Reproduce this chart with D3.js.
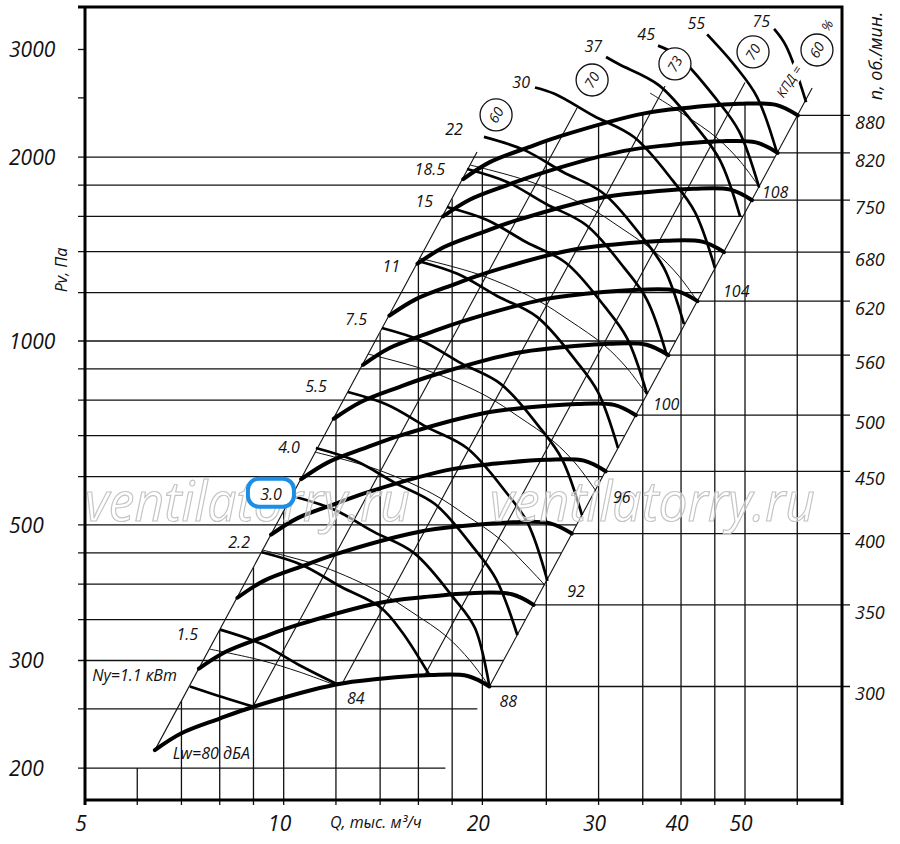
<!DOCTYPE html>
<html>
<head>
<meta charset="utf-8">
<script src="https://cdn.jsdelivr.net/npm/d3@7"></script>
<style>
  body { margin: 0; background: #fff; }
  text { font-family: "Open Sans", "DejaVu Sans", sans-serif; font-style: italic; fill: #111; }
</style>
</head>
<body>
<svg id="chart" width="900" height="844"></svg>
<script>
// ---- axes / grid values ----
const qTicks = [6, 7, 8, 9, 10, 12, 14, 16, 18, 20, 25, 30, 35, 40, 45, 50, 60];
const qLabels = [5, 10, 20, 30, 40, 50];
const pvGrid = [200, 250, 300, 350, 400, 450, 500, 600, 700, 800, 900, 1000, 1200, 1400, 1600, 1800, 2000];
const pvMinor = [2500, 3000];
const pvLabels = [200, 300, 500, 1000, 2000, 3000];

// ---- fan curves, Pv(Q) at each speed ----
const rpm = [300, 350, 400, 450, 500, 560, 620, 680, 750, 820, 880];
const rpmQ = [
  [6.38, 7.0, 8.0, 9.0, 12.0, 14.0, 16.7, 19.0, 20.5],
  [7.44, 8.17, 9.33, 10.5, 14.0, 16.33, 19.48, 22.17, 23.92],
  [8.51, 9.33, 10.67, 12.0, 16.0, 18.67, 22.27, 25.33, 27.33],
  [9.57, 10.5, 12.0, 13.5, 18.0, 21.0, 25.05, 28.5, 30.75],
  [10.63, 11.67, 13.33, 15.0, 20.0, 23.33, 27.83, 31.67, 34.17],
  [11.91, 13.07, 14.93, 16.8, 22.4, 26.13, 31.17, 35.47, 38.27],
  [13.19, 14.47, 16.53, 18.6, 24.8, 28.93, 34.51, 39.27, 42.37],
  [14.46, 15.87, 18.13, 20.4, 27.2, 31.73, 37.85, 43.07, 46.47],
  [15.95, 17.5, 20.0, 22.5, 30.0, 35.0, 41.75, 47.5, 51.25],
  [17.44, 19.13, 21.87, 24.6, 32.8, 38.27, 45.65, 51.93, 56.03],
  [18.71, 20.53, 23.47, 26.4, 35.2, 41.07, 48.99, 55.73, 60.13]
];
const rpmPv = [
  [214, 228, 241, 252, 274, 280, 284, 283, 272],
  [291, 310, 328, 343, 373, 381, 387, 385, 370],
  [380, 405, 428, 448, 487, 498, 505, 503, 484],
  [482, 513, 542, 567, 617, 630, 639, 637, 612],
  [594, 633, 669, 700, 761, 778, 789, 786, 756],
  [746, 794, 840, 878, 955, 976, 990, 986, 948],
  [914, 974, 1029, 1076, 1170, 1196, 1213, 1209, 1162],
  [1100, 1171, 1238, 1295, 1408, 1439, 1459, 1454, 1398],
  [1338, 1425, 1506, 1575, 1713, 1750, 1775, 1769, 1700],
  [1599, 1703, 1801, 1883, 2047, 2092, 2122, 2114, 2032],
  [1841, 1962, 2074, 2168, 2358, 2409, 2444, 2435, 2340]
];

// ---- motor power lines, kW ----
const powerLabels = ['Ny=1.1 кВт', '1.5', '2.2', '3.0', '4.0', '5.5', '7.5', '11', '15', '18.5', '22', '30', '37', '45', '55', '75'];
const powerQ = [
  [7.21, 8.29, 9.02],
  [8.01, 9.21, 10.55, 12.08],
  [9.27, 10.66, 12.21, 14.04, 15.11, 16.66],
  [10.40, 11.96, 13.70, 15.75, 18.05, 19.49, 20.5],
  [11.19, 12.87, 14.74, 16.95, 19.42, 20.97, 22.6],
  [12.51, 14.38, 16.48, 18.95, 21.71, 23.44, 25.1],
  [14.09, 16.20, 18.56, 21.34, 24.45, 26.40, 28.31],
  [15.98, 18.37, 21.05, 24.20, 27.73, 29.94, 32.11],
  [17.68, 20.33, 23.29, 26.78, 30.68, 33.13, 35.52],
  [18.96, 21.80, 24.98, 28.72, 32.90, 35.53, 38.09],
  [20.11, 23.12, 26.49, 30.46, 34.90, 37.68, 40.41],
  [24.03, 25.77, 29.52, 33.94, 38.89, 41.99, 45.03],
  [30.79, 32.22, 37.05, 42.45, 45.83, 49.15],
  [36.91, 39.58, 45.35, 48.96, 52.50],
  [43.81, 48.30, 52.15, 55.92],
  [55.34, 57.71, 61.88]
];
const powerPv = [
  [272, 259, 252],
  [337, 320, 295, 274],
  [451, 430, 396, 366, 334, 283],
  [556, 529, 487, 450, 381, 339, 272],
  [668, 636, 586, 541, 458, 408, 330],
  [825, 786, 723, 668, 566, 503, 405],
  [1050, 1000, 920, 850, 721, 641, 519],
  [1352, 1287, 1185, 1095, 928, 825, 668],
  [1657, 1578, 1452, 1342, 1137, 1011, 819],
  [1912, 1821, 1676, 1548, 1312, 1167, 945],
  [2158, 2055, 1891, 1747, 1481, 1317, 1066],
  [2600, 2537, 2335, 2157, 1828, 1625, 1316],
  [2916, 2837, 2621, 2222, 1975, 1599],
  [3044, 2926, 2480, 2205, 1786],
  [3176, 2821, 2508, 2031],
  [3241, 3039, 2461]
];

// ---- sound power lines, dBA ----
const noiseLabels = ['84', '88', '92', '96', '100', '104', '108'];
const noiseQ = [
  [7.735, 9.21, 10.59, 11.96],
  [9.27, 11.47, 13.99, 15.70, 17.68, 19.15, 20.5],
  [11.15, 13.80, 16.83, 18.88, 21.26, 23.04, 24.9],
  [13.42, 16.60, 20.26, 22.73, 25.59, 27.73, 29.73],
  [16.03, 19.83, 24.20, 27.15, 30.57, 33.12, 35.51],
  [19.16, 23.70, 28.92, 32.45, 36.54, 39.59, 42.44],
  [35.90, 40.28, 45.35, 49.13, 52.68]
];
const noisePv = [
  [313, 300.5, 287, 273.5],
  [455, 427, 388, 359, 328, 300, 272],
  [658, 617, 562, 519, 474, 435, 398],
  [952, 893, 813, 751, 686, 629, 568],
  [1367, 1283, 1167, 1079, 985, 903, 816],
  [1941, 1821, 1657, 1531, 1398, 1282, 1158],
  [2546, 2353, 2149, 1970, 1780]
];

// ---- efficiency lines (КПД, %) ----
const effLabels = ['60', '70', '73', '70', '60'];
const effQ = [[6.38, 19.63], [8.98, 27.83], [12.3, 37.83], [16.3, 50.0], [20.5, 63.2]];
const effPv = [[214, 2039], [252, 2406], [276.6, 2614], [282, 2650], [272, 2594]];
const effTagQ = [20.98, 29.33, 39.16, 51.42, 64.27];
const effTagPv = [2344, 2674, 2841, 2972, 2994];

// label offsets in px (layout only)
const powerLabelOff = [[-13,-5],[-22,10],[-12,-4],[-13,3],[-16,5],[-21,0],[-15,-3],[-18,11],[-14,0],[-22,6],[-21,-2],[-5,1],[-4,-5],[-3,-6],[-2,-5],[-4,-2]];
const noiseLabelOff = [[12,19],[10,21],[22,12],[17,12],[6,15],[25,-5],[2,10]];

const svg = d3.select('#chart');
const L = 85, R = 842, T = 7, B = 800;

const x = d3.scaleLog().domain([5, 50]).range([85, 745]);
const y = d3.scaleLog().domain([100, 1000]).range([952, 341]);

const pts = (qs, ps) => qs.map((q, i) => [q, ps[i]]);
const smooth = d3.line().x(d => x(d[0])).y(d => y(d[1])).curve(d3.curveCatmullRom.alpha(0.5));
const straight = d3.line().x(d => x(d[0])).y(d => y(d[1]));

// Q on a straight log-log line a-b at given Pv
function qAt(a, b, pv) {
  const t = Math.log(pv / a[1]) / Math.log(b[1] / a[1]);
  return Math.exp(Math.log(a[0]) + t * Math.log(b[0] / a[0]));
}

const leftEdge = pts(effQ[0], effPv[0]);
const rightEdge = pts(effQ[4], effPv[4]);
const topCurve = pts(rpmQ[rpmQ.length - 1], rpmPv[rpmPv.length - 1]);

// clip for the vertical grid: below left edge and top speed curve
const qLow = qAt(leftEdge[0], leftEdge[1], pvGrid[0]);
const clipD = `M${L},${B + 6}L${L},${y(pvGrid[0])}L${x(qLow)},${y(pvGrid[0])}` +
  smooth(topCurve).replace(/^M/, 'L') +
  `L${R},${y(topCurve[topCurve.length - 1][1])}L${R},${B + 6}Z`;
svg.append('clipPath').attr('id', 'vclip').append('path').attr('d', clipD);

const grid = svg.append('g').attr('stroke', '#111').attr('stroke-width', 1.3);
grid.append('g').attr('clip-path', 'url(#vclip)')
  .selectAll('line').data(qTicks).join('line')
  .attr('x1', d => x(d)).attr('x2', d => x(d))
  .attr('y1', B + 5).attr('y2', 0);
grid.selectAll('line.h').data(pvGrid).join('line').attr('class', 'h')
  .attr('x1', L - 7).attr('x2', d => x(qAt(rightEdge[0], rightEdge[1], d)))
  .attr('y1', d => y(d)).attr('y2', d => y(d));
grid.selectAll('line.m').data(pvMinor).join('line').attr('class', 'm')
  .attr('x1', L - 7).attr('x2', L)
  .attr('y1', d => y(d)).attr('y2', d => y(d));

// efficiency lines
svg.append('g').selectAll('path').data(effQ).join('path')
  .attr('d', (d, i) => straight(pts(d, effPv[i])))
  .attr('fill', 'none').attr('stroke', '#111').attr('stroke-width', 1.1);

// sound lines
svg.append('g').selectAll('path').data(noiseQ).join('path')
  .attr('d', (d, i) => smooth(pts(d, noisePv[i])))
  .attr('fill', 'none').attr('stroke', '#111').attr('stroke-width', 1);

// power lines
svg.append('g').selectAll('path').data(powerQ).join('path')
  .attr('d', (d, i) => smooth(pts(d, powerPv[i])))
  .attr('fill', 'none').attr('stroke', '#000').attr('stroke-width', 2.7);

// speed curves
svg.append('g').selectAll('path').data(rpmQ).join('path')
  .attr('d', (d, i) => smooth(pts(d, rpmPv[i])))
  .attr('fill', 'none').attr('stroke', '#000').attr('stroke-width', 4)
  .attr('stroke-linecap', 'round');

// speed leaders to right axis
const ends = rpm.map((n, i) => [rpmQ[i][rpmQ[i].length - 1], rpmPv[i][rpmPv[i].length - 1]]);
svg.append('g').selectAll('line').data(ends).join('line')
  .attr('x1', d => x(d[0])).attr('x2', R + 8)
  .attr('y1', d => y(d[1])).attr('y2', d => y(d[1]))
  .attr('stroke', '#111').attr('stroke-width', 1.3);

// frame
svg.append('path')
  .attr('d', `M${L - 7},${T}H${R}V${B + 5}M${L},${T}V${B + 5}M${L},${B}H${R}`)
  .attr('fill', 'none').attr('stroke', '#000').attr('stroke-width', 3);

// watermark (under the labels)
[L, 490].forEach(wx => {
  svg.append('text').attr('x', wx).attr('y', 521)
    .attr('font-family', 'Liberation Sans, sans-serif').attr('font-size', 54)
    .attr('textLength', 325).attr('lengthAdjust', 'spacingAndGlyphs')
    .style('fill', '#fff').style('fill-opacity', 0.55)
    .attr('stroke', '#c4c4c4').attr('stroke-width', 1.2)
    .text('ventilatorry.ru');
});

svg.append('g').selectAll('text').data(rpm).join('text')
  .attr('x', R + 13).attr('y', (d, i) => y(ends[i][1]) + 14)
  .attr('font-size', 18).text(d => d);

// axis labels
svg.append('g').selectAll('text').data(qLabels).join('text')
  .attr('x', d => x(d) - 4).attr('y', 831).attr('text-anchor', 'middle')
  .attr('font-size', 21).text(d => d);
svg.append('g').selectAll('text').data(pvLabels).join('text')
  .attr('x', 9).attr('y', d => y(d) + 8)
  .attr('font-size', 21).text(d => d);
svg.append('text').attr('x', 330).attr('y', 828).attr('font-size', 16).text('Q, тыс. м³/ч');
svg.append('text').attr('transform', 'translate(67,270) rotate(-90)')
  .attr('text-anchor', 'middle').attr('font-size', 16).text('Pv, Па');
svg.append('text').attr('transform', 'translate(882,56) rotate(-90)')
  .attr('text-anchor', 'middle').attr('font-size', 18).text('n, об./мин.');

// power labels
const pLab = svg.append('g');
powerQ.forEach((qs, i) => {
  const px = x(qs[0]) + powerLabelOff[i][0], py = y(powerPv[i][0]) + powerLabelOff[i][1];
  if (powerLabels[i] === '3.0') {
    pLab.append('rect').attr('x', px - 34).attr('y', py - 21).attr('width', 46).attr('height', 28)
      .attr('rx', 11).attr('fill', '#fff').attr('stroke', '#1b8ee6').attr('stroke-width', 4);
  }
  pLab.append('text').attr('x', px).attr('y', py).attr('text-anchor', 'end')
    .attr('font-size', 16).text(powerLabels[i]);
});

// sound labels
noiseQ.forEach((qs, i) => {
  const k = qs.length - 1;
  svg.append('text')
    .attr('x', x(qs[k]) + noiseLabelOff[i][0]).attr('y', y(noisePv[i][k]) + noiseLabelOff[i][1])
    .attr('font-size', 16).text(noiseLabels[i]);
});
svg.append('text').attr('x', x(rpmQ[0][0]) + 18).attr('y', y(rpmPv[0][0]) + 9)
  .attr('font-size', 16).text('Lw=80 дБА');

// efficiency tags
const tags = svg.append('g').selectAll('g').data(effLabels).join('g')
  .attr('transform', (d, i) => `translate(${x(effTagQ[i])},${y(effTagPv[i])})`);
tags.append('circle').attr('r', 16).attr('fill', '#fff').attr('stroke', '#111').attr('stroke-width', 1.3);
tags.append('text').attr('transform', 'rotate(-60)').attr('text-anchor', 'middle')
  .attr('dy', '0.36em').attr('font-size', 14).text(d => d);

const last = effLabels.length - 1;
const kx = x(effTagQ[last]), ky = y(effTagPv[last]);
const kpd = svg.append('g').attr('transform', `translate(${kx - 24},${ky + 34}) rotate(-57)`);
kpd.append('rect').attr('x', -21).attr('y', -11).attr('width', 42).attr('height', 15).attr('fill', '#fff');
kpd.append('text').attr('text-anchor', 'middle').attr('font-size', 13).text('КПД =');
svg.append('text').attr('transform', `translate(${kx + 14},${ky - 22}) rotate(-57)`)
  .attr('text-anchor', 'middle').attr('font-size', 13).text('%');
</script>
</body>
</html>
